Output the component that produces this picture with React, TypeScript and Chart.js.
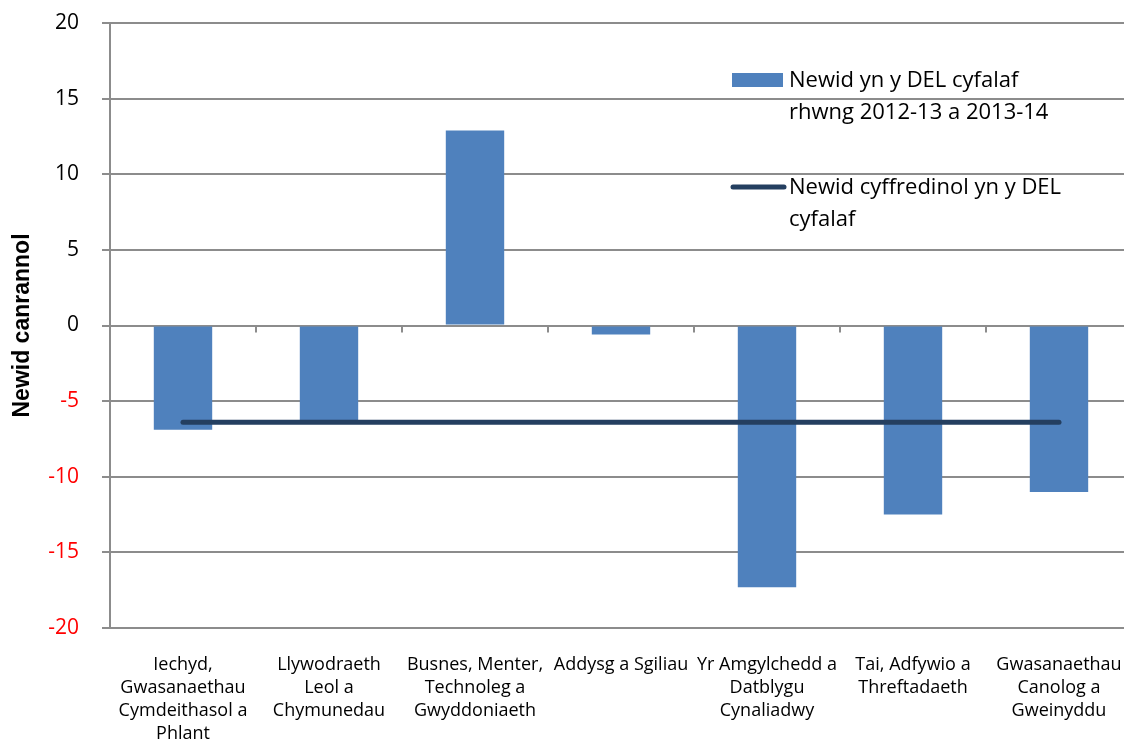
import { useEffect, useRef } from "react";
import { Chart, registerables } from "chart.js";

Chart.register(...registerables);

const categories: string[][] = [
  ["Iechyd,", "Gwasanaethau", "Cymdeithasol a", "Phlant"],
  ["Llywodraeth", "Leol a", "Chymunedau"],
  ["Busnes, Menter,", "Technoleg a", "Gwyddoniaeth"],
  ["Addysg a Sgiliau"],
  ["Yr Amgylchedd a", "Datblygu", "Cynaliadwy"],
  ["Tai, Adfywio a", "Threftadaeth"],
  ["Gwasanaethau", "Canolog a", "Gweinyddu"],
];

const changeValues = [-6.9, -6.3, 12.9, -0.6, -17.3, -12.5, -11.0];
const overallValues = [-6.4, -6.4, -6.4, -6.4, -6.4, -6.4, -6.4];

const barLegend = ["Newid yn y DEL cyfalaf", "rhwng 2012-13 a 2013-14"];
const lineLegend = ["Newid cyffredinol yn y DEL", "cyfalaf"];

const yMin = -20;
const yMax = 20;
const yStep = 5;
const yTitle = "Newid canrannol";

const FONT = "'Open Sans', Lato, sans-serif";
const BAR_COLOR = "#4F81BD";
const LINE_COLOR = "#243F60";
const GRID_COLOR = "#8C8C8C";

const extrasPlugin = {
  id: "extras",
  beforeDatasetsDraw(chart: any) {
    const { ctx } = chart;
    const x = chart.scales.x;
    const y = chart.scales.y;
    const y0 = y.getPixelForValue(0);
    ctx.save();
    ctx.strokeStyle = GRID_COLOR;
    ctx.lineWidth = 2;
    for (let i = 1; i < categories.length; i++) {
      const bx = (x.getPixelForValue(i - 1) + x.getPixelForValue(i)) / 2;
      ctx.beginPath();
      ctx.moveTo(bx, y0);
      ctx.lineTo(bx, y0 + 7);
      ctx.stroke();
    }
    ctx.restore();
  },
  afterDraw(chart: any) {
    const { ctx } = chart;
    ctx.save();
    ctx.font = `22px ${FONT}`;
    ctx.textBaseline = "middle";
    ctx.textAlign = "left";
    // bar legend
    ctx.fillStyle = BAR_COLOR;
    ctx.fillRect(732, 73, 51, 14);
    ctx.fillStyle = "#000";
    barLegend.forEach((t, i) => ctx.fillText(t, 789, 81 + i * 32));
    // line legend
    ctx.strokeStyle = LINE_COLOR;
    ctx.lineWidth = 5;
    ctx.lineCap = "round";
    ctx.beginPath();
    ctx.moveTo(733, 187);
    ctx.lineTo(784, 187);
    ctx.stroke();
    lineLegend.forEach((t, i) => ctx.fillText(t, 789, 188 + i * 32));
    ctx.restore();
  },
};

function ChartView() {
  const ref = useRef<HTMLCanvasElement | null>(null);
  useEffect(() => {
    if (!ref.current) return;
    const chart = new Chart(ref.current, {
      type: "bar",
      data: {
        labels: categories,
        datasets: [
          {
            type: "line",
            label: lineLegend.join(" "),
            data: overallValues,
            borderColor: LINE_COLOR,
            borderWidth: 5,
            borderCapStyle: "round",
            pointRadius: 0,
            order: 0,
          } as any,
          {
            type: "bar",
            label: barLegend.join(" "),
            data: changeValues,
            backgroundColor: BAR_COLOR,
            borderWidth: 0,
            barPercentage: 0.4,
            categoryPercentage: 1,
            order: 1,
          },
        ],
      },
      options: {
        responsive: false,
        animation: false,
        layout: { autoPadding: false, padding: { top: 23, left: 0, right: 0, bottom: 0 } },
        plugins: { legend: { display: false }, tooltip: { enabled: false } },
        scales: {
          x: {
            grid: { display: false, drawTicks: false },
            border: { display: false },
            ticks: {
              color: "#000",
              font: { family: FONT, size: 18, lineHeight: 1.28 } as any,
              padding: 25,
              maxRotation: 0,
              autoSkip: false,
            },
            afterFit(scale: any) {
              scale.height = 116;
              scale.paddingLeft = 0;
              scale.paddingRight = 0;
              scale.paddingTop = 0;
              scale.paddingBottom = 0;
            },
          },
          y: {
            min: yMin,
            max: yMax,
            ticks: {
              stepSize: yStep,
              padding: 23,
              font: { family: FONT, size: 21 },
              color: (c: any) => (c.tick && c.tick.value < 0 ? "#FF0000" : "#000000"),
            },
            grid: {
              color: GRID_COLOR,
              lineWidth: 2,
              tickLength: 8,
              tickColor: GRID_COLOR,
            },
            border: { color: GRID_COLOR, width: 2 },
            title: {
              display: true,
              text: yTitle,
              color: "#000",
              font: { family: "'Liberation Sans', Arial, sans-serif", size: 23, weight: "bold" },
              padding: { top: 9, bottom: 0 },
            },
            afterFit(scale: any) {
              scale.width = 110;
              scale.paddingLeft = 0;
              scale.paddingRight = 0;
              scale.paddingTop = 0;
              scale.paddingBottom = 0;
            },
          },
        },
      },
      plugins: [extrasPlugin],
    });
    return () => chart.destroy();
  }, []);
  return (
    <div
      style={{
        position: "absolute",
        left: 0,
        top: 0,
        width: 1124,
        height: 744,
        overflow: "hidden",
      }}
    >
      <canvas
        ref={ref}
        width={1132}
        height={744}
        style={{ position: "absolute", left: 0, top: 0, width: 1132, height: 744 }}
      />
    </div>
  );
}

export default function App() {
  return <ChartView />;
}
